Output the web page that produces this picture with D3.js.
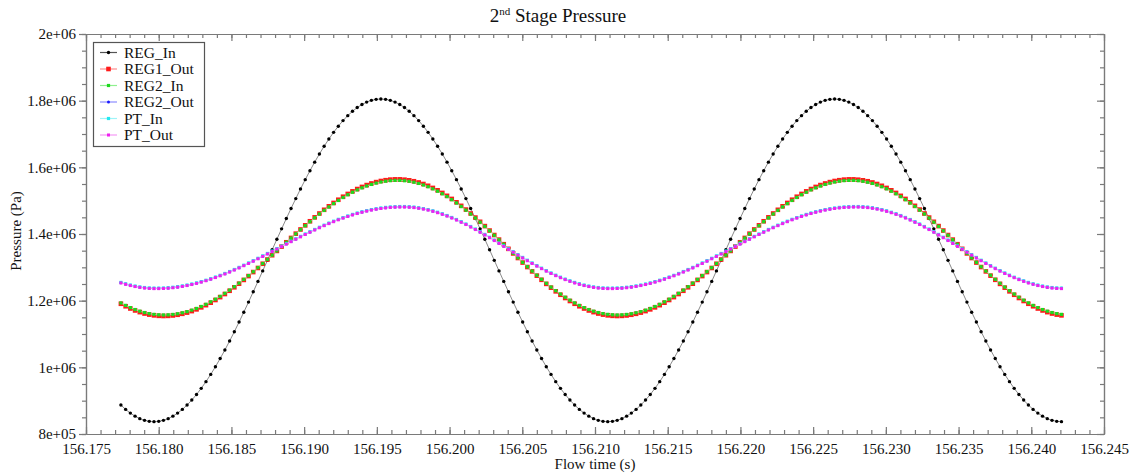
<!DOCTYPE html>
<html>
<head>
<meta charset="utf-8">
<script src="https://cdn.jsdelivr.net/npm/d3@7"></script>
<style>
  html, body { margin: 0; padding: 0; background: #fff; }
  svg { display: block; font-family: "Liberation Serif", "Times New Roman", serif; }
</style>
</head>
<body>
<svg id="chart" width="1133" height="476"></svg>
<script>
// Sample times (s)
const flowTime = [
  156.177400, 156.177725, 156.178050, 156.178375, 156.178700, 156.179025, 156.179350, 156.179675,
  156.180000, 156.180325, 156.180650, 156.180975, 156.181300, 156.181625, 156.181950, 156.182275,
  156.182600, 156.182925, 156.183250, 156.183575, 156.183900, 156.184225, 156.184550, 156.184875,
  156.185200, 156.185525, 156.185850, 156.186175, 156.186500, 156.186825, 156.187150, 156.187475,
  156.187800, 156.188125, 156.188450, 156.188775, 156.189100, 156.189425, 156.189750, 156.190075,
  156.190400, 156.190725, 156.191050, 156.191375, 156.191700, 156.192025, 156.192350, 156.192675,
  156.193000, 156.193325, 156.193650, 156.193975, 156.194300, 156.194625, 156.194950, 156.195275,
  156.195600, 156.195925, 156.196250, 156.196575, 156.196900, 156.197225, 156.197550, 156.197875,
  156.198200, 156.198525, 156.198850, 156.199175, 156.199500, 156.199825, 156.200150, 156.200475,
  156.200800, 156.201125, 156.201450, 156.201775, 156.202100, 156.202425, 156.202750, 156.203075,
  156.203400, 156.203725, 156.204050, 156.204375, 156.204700, 156.205025, 156.205350, 156.205675,
  156.206000, 156.206325, 156.206650, 156.206975, 156.207300, 156.207625, 156.207950, 156.208275,
  156.208600, 156.208925, 156.209250, 156.209575, 156.209900, 156.210225, 156.210550, 156.210875,
  156.211200, 156.211525, 156.211850, 156.212175, 156.212500, 156.212825, 156.213150, 156.213475,
  156.213800, 156.214125, 156.214450, 156.214775, 156.215100, 156.215425, 156.215750, 156.216075,
  156.216400, 156.216725, 156.217050, 156.217375, 156.217700, 156.218025, 156.218350, 156.218675,
  156.219000, 156.219325, 156.219650, 156.219975, 156.220300, 156.220625, 156.220950, 156.221275,
  156.221600, 156.221925, 156.222250, 156.222575, 156.222900, 156.223225, 156.223550, 156.223875,
  156.224200, 156.224525, 156.224850, 156.225175, 156.225500, 156.225825, 156.226150, 156.226475,
  156.226800, 156.227125, 156.227450, 156.227775, 156.228100, 156.228425, 156.228750, 156.229075,
  156.229400, 156.229725, 156.230050, 156.230375, 156.230700, 156.231025, 156.231350, 156.231675,
  156.232000, 156.232325, 156.232650, 156.232975, 156.233300, 156.233625, 156.233950, 156.234275,
  156.234600, 156.234925, 156.235250, 156.235575, 156.235900, 156.236225, 156.236550, 156.236875,
  156.237200, 156.237525, 156.237850, 156.238175, 156.238500, 156.238825, 156.239150, 156.239475,
  156.239800, 156.240125, 156.240450, 156.240775, 156.241100, 156.241425, 156.241750, 156.242075
];

// Pressure (Pa) per monitor
const regIn = [
  886900, 873800, 862700, 853500, 846000, 841000, 838000, 837000,
  838000, 841000, 846000, 853500, 862700, 873800, 886900, 901800,
  918600, 937000, 957100, 978800, 1001900, 1026400, 1052100, 1079000,
  1106900, 1135800, 1165400, 1195700, 1226600, 1257800, 1289300, 1321000,
  1352700, 1384200, 1415400, 1446300, 1476600, 1506200, 1535100, 1563000,
  1589900, 1615600, 1640100, 1663200, 1684900, 1705000, 1723400, 1740200,
  1755100, 1768200, 1779300, 1788500, 1795700, 1800900, 1804000, 1805000,
  1804000, 1800900, 1795700, 1788500, 1779300, 1768200, 1755100, 1740200,
  1723400, 1705000, 1684900, 1663200, 1640100, 1615600, 1589900, 1563000,
  1535100, 1506200, 1476600, 1446300, 1415400, 1384200, 1352700, 1321000,
  1289300, 1257800, 1226600, 1195700, 1165400, 1135800, 1106900, 1079000,
  1052100, 1026400, 1001900, 978800, 957100, 937000, 918600, 901800,
  886900, 873800, 862700, 853500, 846000, 841000, 838000, 837000,
  838000, 841000, 846000, 853500, 862700, 873800, 886900, 901800,
  918600, 937000, 957100, 978800, 1001900, 1026400, 1052100, 1079000,
  1106900, 1135800, 1165400, 1195700, 1226600, 1257800, 1289300, 1321000,
  1352700, 1384200, 1415400, 1446300, 1476600, 1506200, 1535100, 1563000,
  1589900, 1615600, 1640100, 1663200, 1684900, 1705000, 1723400, 1740200,
  1755100, 1768200, 1779300, 1788500, 1795700, 1800900, 1804000, 1805000,
  1804000, 1800900, 1795700, 1788500, 1779300, 1768200, 1755100, 1740200,
  1723400, 1705000, 1684900, 1663200, 1640100, 1615600, 1589900, 1563000,
  1535100, 1506200, 1476600, 1446300, 1415400, 1384200, 1352700, 1321000,
  1289300, 1257800, 1226600, 1195700, 1165400, 1135800, 1106900, 1079000,
  1052100, 1026400, 1001900, 978800, 957100, 937000, 918600, 901800,
  886900, 873800, 862700, 853500, 846000, 841000, 838000, 837000
];

const reg1Out = [
  1190700, 1183200, 1176500, 1170600, 1165600, 1161400, 1158200, 1155900,
  1154500, 1154000, 1154400, 1155600, 1157700, 1160600, 1164200, 1168700,
  1173900, 1179900, 1186500, 1193900, 1202000, 1210600, 1219900, 1229700,
  1240100, 1250900, 1262200, 1273800, 1285800, 1298100, 1310700, 1323400,
  1336300, 1349200, 1362300, 1375200, 1388200, 1401000, 1413600, 1426000,
  1438200, 1450000, 1461500, 1472600, 1483100, 1493200, 1502800, 1511800,
  1520200, 1527900, 1534900, 1541200, 1546800, 1551600, 1555700, 1559000,
  1561400, 1563100, 1563900, 1563900, 1562900, 1561100, 1558300, 1554600,
  1550000, 1544600, 1538200, 1531100, 1523200, 1514500, 1505200, 1495100,
  1484500, 1473300, 1461500, 1449300, 1436600, 1423700, 1410400, 1396900,
  1383200, 1369400, 1355500, 1341700, 1328000, 1314300, 1300900, 1287800,
  1275000, 1262600, 1250400, 1239000, 1228000, 1217700, 1208000, 1199000,
  1190700, 1183200, 1176500, 1170600, 1165600, 1161400, 1158200, 1155900,
  1154500, 1154000, 1154400, 1155600, 1157700, 1160600, 1164200, 1168700,
  1173900, 1179900, 1186500, 1193900, 1202000, 1210600, 1219900, 1229700,
  1240100, 1250900, 1262200, 1273800, 1285800, 1298100, 1310700, 1323400,
  1336300, 1349200, 1362300, 1375200, 1388200, 1401000, 1413600, 1426000,
  1438200, 1450000, 1461500, 1472600, 1483100, 1493200, 1502800, 1511800,
  1520200, 1527900, 1534900, 1541200, 1546800, 1551600, 1555700, 1559000,
  1561400, 1563100, 1563900, 1563900, 1562900, 1561100, 1558300, 1554600,
  1550000, 1544600, 1538200, 1531100, 1523200, 1514500, 1505200, 1495100,
  1484500, 1473300, 1461500, 1449300, 1436600, 1423700, 1410400, 1396900,
  1383200, 1369400, 1355500, 1341700, 1328000, 1314300, 1300900, 1287800,
  1275000, 1262600, 1250400, 1239000, 1228000, 1217700, 1208000, 1199000,
  1190700, 1183200, 1176500, 1170600, 1165600, 1161400, 1158200, 1155900
];

const reg2In = [
  1193200, 1185800, 1179200, 1173400, 1168500, 1164400, 1161200, 1158900,
  1157600, 1157100, 1157500, 1158700, 1160700, 1163600, 1167100, 1171600,
  1176700, 1182600, 1189100, 1196400, 1204400, 1212800, 1222000, 1231600,
  1241900, 1252500, 1263700, 1275100, 1286900, 1299000, 1311400, 1323900,
  1336600, 1349300, 1362300, 1375000, 1387800, 1400400, 1412800, 1425000,
  1437000, 1448600, 1460000, 1470900, 1481200, 1491200, 1500600, 1509500,
  1517800, 1525400, 1532300, 1538500, 1544000, 1548700, 1552700, 1556000,
  1558400, 1560000, 1560800, 1560800, 1559800, 1558100, 1555300, 1551700,
  1547100, 1541800, 1535500, 1528500, 1520700, 1512200, 1503000, 1493100,
  1482600, 1471600, 1460000, 1447900, 1435400, 1422700, 1409600, 1396300,
  1382800, 1369200, 1355600, 1342000, 1328500, 1315000, 1301800, 1288900,
  1276300, 1264000, 1252000, 1240800, 1230000, 1219800, 1210300, 1201400,
  1193200, 1185800, 1179200, 1173400, 1168500, 1164400, 1161200, 1158900,
  1157600, 1157100, 1157500, 1158700, 1160700, 1163600, 1167100, 1171600,
  1176700, 1182600, 1189100, 1196400, 1204400, 1212800, 1222000, 1231600,
  1241900, 1252500, 1263700, 1275100, 1286900, 1299000, 1311400, 1323900,
  1336600, 1349300, 1362300, 1375000, 1387800, 1400400, 1412800, 1425000,
  1437000, 1448600, 1460000, 1470900, 1481200, 1491200, 1500600, 1509500,
  1517800, 1525400, 1532300, 1538500, 1544000, 1548700, 1552700, 1556000,
  1558400, 1560000, 1560800, 1560800, 1559800, 1558100, 1555300, 1551700,
  1547100, 1541800, 1535500, 1528500, 1520700, 1512200, 1503000, 1493100,
  1482600, 1471600, 1460000, 1447900, 1435400, 1422700, 1409600, 1396300,
  1382800, 1369200, 1355600, 1342000, 1328500, 1315000, 1301800, 1288900,
  1276300, 1264000, 1252000, 1240800, 1230000, 1219800, 1210300, 1201400,
  1193200, 1185800, 1179200, 1173400, 1168500, 1164400, 1161200, 1158900
];

const reg2Out = [
  1254000, 1249800, 1246100, 1243100, 1240600, 1238700, 1237500, 1236900,
  1236900, 1237300, 1238200, 1239500, 1241300, 1243500, 1246100, 1249200,
  1252600, 1256400, 1260600, 1265200, 1270100, 1275300, 1280900, 1286700,
  1292800, 1299100, 1305700, 1312400, 1319300, 1326400, 1333600, 1340900,
  1348200, 1355600, 1363000, 1370400, 1377700, 1385000, 1392200, 1399300,
  1406200, 1412900, 1419500, 1425800, 1431900, 1437700, 1443300, 1448500,
  1453400, 1458000, 1462200, 1466000, 1469400, 1472500, 1475100, 1477300,
  1479100, 1480400, 1481300, 1481700, 1481700, 1481100, 1479900, 1478000,
  1475500, 1472500, 1468800, 1464600, 1459900, 1454700, 1448900, 1442800,
  1436200, 1429200, 1421800, 1414100, 1406200, 1398000, 1389600, 1381100,
  1372400, 1363700, 1354900, 1346200, 1337500, 1329000, 1320600, 1312400,
  1304500, 1296800, 1289400, 1282400, 1275800, 1269700, 1263900, 1258700,
  1254000, 1249800, 1246100, 1243100, 1240600, 1238700, 1237500, 1236900,
  1236900, 1237300, 1238200, 1239500, 1241300, 1243500, 1246100, 1249200,
  1252600, 1256400, 1260600, 1265200, 1270100, 1275300, 1280900, 1286700,
  1292800, 1299100, 1305700, 1312400, 1319300, 1326400, 1333600, 1340900,
  1348200, 1355600, 1363000, 1370400, 1377700, 1385000, 1392200, 1399300,
  1406200, 1412900, 1419500, 1425800, 1431900, 1437700, 1443300, 1448500,
  1453400, 1458000, 1462200, 1466000, 1469400, 1472500, 1475100, 1477300,
  1479100, 1480400, 1481300, 1481700, 1481700, 1481100, 1479900, 1478000,
  1475500, 1472500, 1468800, 1464600, 1459900, 1454700, 1448900, 1442800,
  1436200, 1429200, 1421800, 1414100, 1406200, 1398000, 1389600, 1381100,
  1372400, 1363700, 1354900, 1346200, 1337500, 1329000, 1320600, 1312400,
  1304500, 1296800, 1289400, 1282400, 1275800, 1269700, 1263900, 1258700,
  1254000, 1249800, 1246100, 1243100, 1240600, 1238700, 1237500, 1236900
];

const ptIn = [
  1254700, 1250500, 1246800, 1243800, 1241300, 1239400, 1238200, 1237600,
  1237600, 1238000, 1238900, 1240200, 1242000, 1244200, 1246800, 1249900,
  1253300, 1257100, 1261300, 1265900, 1270800, 1276000, 1281600, 1287400,
  1293500, 1299800, 1306400, 1313100, 1320000, 1327100, 1334300, 1341600,
  1348900, 1356300, 1363700, 1371100, 1378400, 1385700, 1392900, 1400000,
  1406900, 1413600, 1420200, 1426500, 1432600, 1438400, 1444000, 1449200,
  1454100, 1458700, 1462900, 1466700, 1470100, 1473200, 1475800, 1478000,
  1479800, 1481100, 1482000, 1482400, 1482400, 1481800, 1480600, 1478700,
  1476200, 1473200, 1469500, 1465300, 1460600, 1455400, 1449600, 1443500,
  1436900, 1429900, 1422500, 1414800, 1406900, 1398700, 1390300, 1381800,
  1373100, 1364400, 1355600, 1346900, 1338200, 1329700, 1321300, 1313100,
  1305200, 1297500, 1290100, 1283100, 1276500, 1270400, 1264600, 1259400,
  1254700, 1250500, 1246800, 1243800, 1241300, 1239400, 1238200, 1237600,
  1237600, 1238000, 1238900, 1240200, 1242000, 1244200, 1246800, 1249900,
  1253300, 1257100, 1261300, 1265900, 1270800, 1276000, 1281600, 1287400,
  1293500, 1299800, 1306400, 1313100, 1320000, 1327100, 1334300, 1341600,
  1348900, 1356300, 1363700, 1371100, 1378400, 1385700, 1392900, 1400000,
  1406900, 1413600, 1420200, 1426500, 1432600, 1438400, 1444000, 1449200,
  1454100, 1458700, 1462900, 1466700, 1470100, 1473200, 1475800, 1478000,
  1479800, 1481100, 1482000, 1482400, 1482400, 1481800, 1480600, 1478700,
  1476200, 1473200, 1469500, 1465300, 1460600, 1455400, 1449600, 1443500,
  1436900, 1429900, 1422500, 1414800, 1406900, 1398700, 1390300, 1381800,
  1373100, 1364400, 1355600, 1346900, 1338200, 1329700, 1321300, 1313100,
  1305200, 1297500, 1290100, 1283100, 1276500, 1270400, 1264600, 1259400,
  1254700, 1250500, 1246800, 1243800, 1241300, 1239400, 1238200, 1237600
];

const ptOut = [
  1253200, 1249000, 1245300, 1242300, 1239800, 1237900, 1236700, 1236100,
  1236100, 1236500, 1237400, 1238700, 1240500, 1242700, 1245300, 1248400,
  1251800, 1255600, 1259800, 1264400, 1269300, 1274500, 1280100, 1285900,
  1292000, 1298300, 1304900, 1311600, 1318500, 1325600, 1332800, 1340100,
  1347400, 1354800, 1362200, 1369600, 1376900, 1384200, 1391400, 1398500,
  1405400, 1412100, 1418700, 1425000, 1431100, 1436900, 1442500, 1447700,
  1452600, 1457200, 1461400, 1465200, 1468600, 1471700, 1474300, 1476500,
  1478300, 1479600, 1480500, 1480900, 1480900, 1480300, 1479100, 1477200,
  1474700, 1471700, 1468000, 1463800, 1459100, 1453900, 1448100, 1442000,
  1435400, 1428400, 1421000, 1413300, 1405400, 1397200, 1388800, 1380300,
  1371600, 1362900, 1354100, 1345400, 1336700, 1328200, 1319800, 1311600,
  1303700, 1296000, 1288600, 1281600, 1275000, 1268900, 1263100, 1257900,
  1253200, 1249000, 1245300, 1242300, 1239800, 1237900, 1236700, 1236100,
  1236100, 1236500, 1237400, 1238700, 1240500, 1242700, 1245300, 1248400,
  1251800, 1255600, 1259800, 1264400, 1269300, 1274500, 1280100, 1285900,
  1292000, 1298300, 1304900, 1311600, 1318500, 1325600, 1332800, 1340100,
  1347400, 1354800, 1362200, 1369600, 1376900, 1384200, 1391400, 1398500,
  1405400, 1412100, 1418700, 1425000, 1431100, 1436900, 1442500, 1447700,
  1452600, 1457200, 1461400, 1465200, 1468600, 1471700, 1474300, 1476500,
  1478300, 1479600, 1480500, 1480900, 1480900, 1480300, 1479100, 1477200,
  1474700, 1471700, 1468000, 1463800, 1459100, 1453900, 1448100, 1442000,
  1435400, 1428400, 1421000, 1413300, 1405400, 1397200, 1388800, 1380300,
  1371600, 1362900, 1354100, 1345400, 1336700, 1328200, 1319800, 1311600,
  1303700, 1296000, 1288600, 1281600, 1275000, 1268900, 1263100, 1257900,
  1253200, 1249000, 1245300, 1242300, 1239800, 1237900, 1236700, 1236100
];

const seriesNames = ["REG_In", "REG1_Out", "REG2_In", "REG2_Out", "PT_In", "PT_Out"];
const xTickValues = [156.175, 156.180, 156.185, 156.190, 156.195, 156.200, 156.205, 156.210,
                     156.215, 156.220, 156.225, 156.230, 156.235, 156.240, 156.245];
const xTickLabels = ["156.175", "156.180", "156.185", "156.190", "156.195", "156.200", "156.205", "156.210",
                     "156.215", "156.220", "156.225", "156.230", "156.235", "156.240", "156.245"];
const yTickValues = [800000, 1000000, 1200000, 1400000, 1600000, 1800000, 2000000];
const yTickLabels = ["8e+05", "1e+06", "1.2e+06", "1.4e+06", "1.6e+06", "1.8e+06", "2e+06"];

// ---- layout ----
const frame = { left: 86, right: 1104, top: 34, bottom: 434 };
const svg = d3.select("#chart");

const x = d3.scaleLinear().domain([156.175, 156.245]).range([frame.left, frame.right]);
const y = d3.scaleLinear().domain([800000, 2000000]).range([frame.bottom, frame.top]);

const axisColor = "#7a7a7a";
const xMinor = d3.range(0, 71).map(i => 156.175 + i * 0.001);
const yMinor = d3.range(0, 25).map(i => 800000 + i * 50000);

function styleAxis(g) {
  g.selectAll("path.domain").attr("stroke", axisColor).attr("stroke-width", 1.2);
  g.selectAll(".tick line").attr("stroke", axisColor).attr("stroke-width", 1.2);
  g.selectAll("text").attr("fill", "#111").attr("font-size", 15)
    .attr("font-family", '"Liberation Serif", "Times New Roman", serif');
}

// minor ticks (no labels)
svg.append("g").attr("transform", `translate(0,${frame.bottom})`)
  .call(d3.axisBottom(x).tickValues(xMinor).tickSize(-4).tickSizeOuter(0).tickFormat(""))
  .call(styleAxis);
svg.append("g").attr("transform", `translate(0,${frame.top})`)
  .call(d3.axisTop(x).tickValues(xMinor).tickSize(-4).tickSizeOuter(0).tickFormat(""))
  .call(styleAxis);
svg.append("g").attr("transform", `translate(${frame.left},0)`)
  .call(d3.axisLeft(y).tickValues(yMinor).tickSize(4).tickSizeOuter(0).tickFormat(""))
  .call(styleAxis);
svg.append("g").attr("transform", `translate(${frame.right},0)`)
  .call(d3.axisRight(y).tickValues(yMinor).tickSize(-4).tickSizeOuter(0).tickFormat(""))
  .call(styleAxis);

// major ticks with labels
svg.append("g").attr("transform", `translate(0,${frame.bottom})`)
  .call(d3.axisBottom(x).tickValues(xTickValues).tickSize(-7).tickSizeOuter(0).tickPadding(9)
    .tickFormat((d, i) => xTickLabels[i]))
  .call(styleAxis);
svg.append("g").attr("transform", `translate(0,${frame.top})`)
  .call(d3.axisTop(x).tickValues(xTickValues).tickSize(-7).tickSizeOuter(0).tickFormat(""))
  .call(styleAxis);
svg.append("g").attr("transform", `translate(${frame.left},0)`)
  .call(d3.axisLeft(y).tickValues(yTickValues).tickSize(7).tickSizeOuter(0).tickPadding(3)
    .tickFormat((d, i) => yTickLabels[i]))
  .call(styleAxis);
svg.append("g").attr("transform", `translate(${frame.right},0)`)
  .call(d3.axisRight(y).tickValues(yTickValues).tickSize(-7).tickSizeOuter(0).tickFormat(""))
  .call(styleAxis);

// ---- titles ----
const title = svg.append("text").attr("x", 558).attr("y", 22)
  .attr("text-anchor", "middle").attr("font-size", 19).attr("fill", "#111");
title.append("tspan").text("2");
title.append("tspan").attr("font-size", 11).attr("dy", -7).text("nd");
title.append("tspan").attr("dy", 7).text(" Stage Pressure");

svg.append("text").attr("x", 595).attr("y", 469).attr("text-anchor", "middle")
  .attr("font-size", 15).attr("fill", "#111").text("Flow time (s)");

svg.append("text").attr("transform", "translate(21,231) rotate(-90)")
  .attr("text-anchor", "middle").attr("font-size", 15).attr("fill", "#111").text("Pressure (Pa)");

// ---- series ----
const seriesValues = [regIn, reg1Out, reg2In, reg2Out, ptIn, ptOut];
const seriesStyle = [
  { color: "#000000", line: "#8a8a8a", shape: "circle", size: 3.4 },
  { color: "#ff1a1a", line: "#ff8c8c", shape: "square", size: 4.6 },
  { color: "#1ed81e", line: "#8ff08f", shape: "square", size: 3.2 },
  { color: "#1a1aff", line: "#8c8cff", shape: "circle", size: 3.0 },
  { color: "#22e8f0", line: "#9ef4f8", shape: "square", size: 3.2 },
  { color: "#f020f0", line: "#f59af5", shape: "square", size: 3.0 }
];

const line = d3.line().x(d => x(d[0])).y(d => y(d[1]));

function drawMarker(sel, style) {
  if (style.shape === "circle") {
    sel.append("circle").attr("r", style.size / 2).attr("fill", style.color);
  } else {
    sel.append("rect").attr("x", -style.size / 2).attr("y", -style.size / 2)
      .attr("width", style.size).attr("height", style.size).attr("fill", style.color);
  }
}

seriesValues.forEach((vals, s) => {
  const pts = flowTime.map((t, i) => [t, vals[i]]);
  const st = seriesStyle[s];
  const g = svg.append("g").attr("class", "series");
  g.append("path").datum(pts).attr("d", line)
    .attr("fill", "none").attr("stroke", st.line).attr("stroke-width", 1);
  g.selectAll("g.pt").data(pts).enter().append("g").attr("class", "pt")
    .attr("transform", d => `translate(${x(d[0])},${y(d[1])})`)
    .each(function () { drawMarker(d3.select(this), st); });
});

// ---- legend ----
const legend = svg.append("g");
legend.append("rect").attr("x", 93.5).attr("y", 42.5).attr("width", 111).attr("height", 104)
  .attr("fill", "#fff").attr("stroke", "#555").attr("stroke-width", 1.2);
seriesNames.forEach((name, i) => {
  const cy = 52.5 + i * 16.5;
  const st = seriesStyle[i];
  legend.append("line").attr("x1", 100).attr("x2", 117).attr("y1", cy).attr("y2", cy)
    .attr("stroke", i === 0 ? "#555" : st.line).attr("stroke-width", 1.2);
  const m = legend.append("g").attr("transform", `translate(108.5,${cy})`);
  drawMarker(m, st);
  legend.append("text").attr("x", 124).attr("y", cy + 5).attr("font-size", 15.5)
    .attr("fill", "#111").text(name);
});
</script>
</body>
</html>
